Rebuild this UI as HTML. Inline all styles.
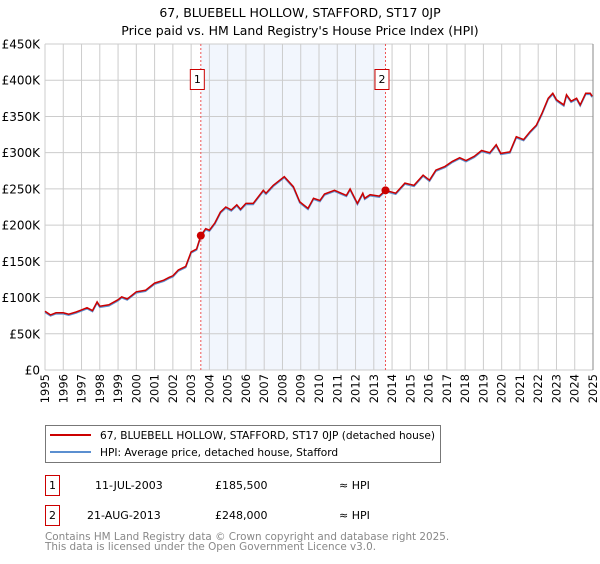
<!DOCTYPE html>
<html><head><meta charset="utf-8">
<style>
body{margin:0;background:#fff;font-family:"DejaVu Sans","Liberation Sans",sans-serif;}
svg text{font-family:"DejaVu Sans","Liberation Sans",sans-serif;}
</style></head>
<body>
<svg id="chart" width="600" height="560" xmlns="http://www.w3.org/2000/svg">
<text x="300" y="17" text-anchor="middle" font-size="12.5" fill="#000">67, BLUEBELL HOLLOW, STAFFORD, ST17 0JP</text>
<text x="300" y="35" text-anchor="middle" font-size="12.5" fill="#000">Price paid vs. HM Land Registry's House Price Index (HPI)</text>
<g id="plot"></g>
<g>
<rect x="45.5" y="425.5" width="395" height="37" fill="#fff" stroke="#777"/>
<line x1="50" y1="435" x2="91" y2="435" stroke="#cc0000" stroke-width="2"/>
<text x="100" y="439" font-size="10.6" fill="#000">67, BLUEBELL HOLLOW, STAFFORD, ST17 0JP (detached house)</text>
<line x1="50" y1="452" x2="91" y2="452" stroke="#5b8fd0" stroke-width="2"/>
<text x="100" y="456" font-size="10.6" fill="#000">HPI: Average price, detached house, Stafford</text>
</g>
<g font-size="11" fill="#000">
<rect x="45.5" y="475.5" width="14" height="20" fill="#fff" stroke="#cc0000"/>
<text x="52.5" y="489" text-anchor="middle" font-size="11">1</text>
<text x="95" y="489">11-JUL-2003</text>
<text x="215" y="489">£185,500</text>
<text x="339" y="489">≈ HPI</text>
<rect x="45.5" y="505.5" width="14" height="20" fill="#fff" stroke="#cc0000"/>
<text x="52.5" y="519" text-anchor="middle" font-size="11">2</text>
<text x="87" y="519">21-AUG-2013</text>
<text x="215" y="519">£248,000</text>
<text x="339" y="519">≈ HPI</text>
</g>
<text x="45" y="540" font-size="10.4" fill="#888">Contains HM Land Registry data © Crown copyright and database right 2025.</text>
<text x="45" y="550" font-size="10.4" fill="#888">This data is licensed under the Open Government Licence v3.0.</text>
</svg>
<script>
const years=[1995,1996,1997,1998,1999,2000,2001,2002,2003,2004,2005,2006,2007,2008,2009,2010,2011,2012,2013,2014,2015,2016,2017,2018,2019,2020,2021,2022,2023,2024,2025];
const yTicks=[0,50,100,150,200,250,300,350,400,450];
const yTickLabels=["£0","£50K","£100K","£150K","£200K","£250K","£300K","£350K","£400K","£450K"];
const hpiDates=[1995.0,1995.3,1995.6,1996.0,1996.3,1996.7,1997.0,1997.3,1997.6,1997.85,1998.0,1998.5,1999.0,1999.2,1999.5,2000.0,2000.5,2001.0,2001.5,2001.8,2002.0,2002.3,2002.7,2003.0,2003.3,2003.53,2003.8,2004.0,2004.3,2004.6,2004.9,2005.2,2005.5,2005.7,2006.0,2006.4,2006.95,2007.1,2007.5,2008.1,2008.6,2008.95,2009.4,2009.7,2010.05,2010.3,2010.85,2011.5,2011.7,2012.1,2012.4,2012.5,2012.8,2013.3,2013.64,2014.2,2014.7,2015.2,2015.7,2016.05,2016.4,2016.9,2017.3,2017.7,2018.05,2018.5,2018.9,2019.35,2019.7,2019.95,2020.45,2020.8,2021.2,2021.55,2021.9,2022.2,2022.55,2022.8,2023.0,2023.4,2023.55,2023.8,2024.1,2024.3,2024.6,2024.85,2024.95];
const hpiValues=[81,76,79,79,77,80,83,86,82,94,88,90,97,101,98,108,110,120,124,128,130,138,143,163,167,185.5,195,193,203,218,225,221,228,222,230,230,248,244,255,267,253,232,223,237,234,243,248,241,250,230,244,237,242,240,248,244,258,255,269,262,276,281,288,293,289,295,303,300,311,299,301,322,318,329,338,354,375,382,373,366,380,371,375,366,382,382,378];
const saleDates=[2003.53,2013.64];
const salePrices=[185.5,248];
const saleLabels=["1","2"];
const L=45,R=593,T=44,B=370;
const xS=y=>L+(y-1995)*(R-L)/30;
const yS=v=>B-v*(B-T)/450;
const NS="http://www.w3.org/2000/svg";
const plot=document.getElementById('plot');
function mk(tag,attrs,parent){const e=document.createElementNS(NS,tag);for(const k in attrs)e.setAttribute(k,attrs[k]);(parent||plot).appendChild(e);return e;}
const shade=mk('rect',{x:xS(saleDates[0]),y:T,width:xS(saleDates[1])-xS(saleDates[0]),height:B-T,fill:'#f2f6fd'});


years.forEach((yr,i)=>{
 const g=mk('line',{x1:xS(yr),x2:xS(yr),y1:T,y2:B,stroke:'#ccc','stroke-width':1});
 
 
 const t=mk('text',{x:0,y:0,transform:`translate(${xS(yr)+4},${B+4}) rotate(-90)`,'text-anchor':'end','font-size':11.5,fill:'#000'});
 t.textContent=yr;
 
 
});
yTicks.forEach((v,i)=>{
 const g=mk('line',{x1:L,x2:R,y1:yS(v),y2:yS(v),stroke:'#ccc','stroke-width':1});
 
 
 const t=mk('text',{x:L-5,y:yS(v)+4.5,'text-anchor':'end','font-size':12,fill:'#000'});
 t.textContent=yTickLabels[i];
 
 
});
const rb=mk('line',{x1:R,x2:R,y1:T,y2:B,stroke:'#888','stroke-width':1});


const pts=hpiDates.map((d,i)=>xS(d).toFixed(1)+','+yS(hpiValues[i]).toFixed(1)).join(' ');
const hpi=mk('polyline',{points:pts,fill:'none',stroke:'#5b8fd0','stroke-width':1.6,transform:'translate(0,1)'});


const prop=mk('polyline',{points:pts,fill:'none',stroke:'#cc0000','stroke-width':1.5});


saleDates.forEach((d,i)=>{
 const vl=mk('line',{x1:xS(d),x2:xS(d),y1:T,y2:B,stroke:'#ee5555','stroke-width':1,'stroke-dasharray':'2,2'});
 
 
 const c=mk('circle',{cx:xS(d),cy:yS(salePrices[i]),r:4,fill:'#cc0000'});
 
 
 const bx=mk('rect',{x:xS(d)-10.5,y:69.5,width:14,height:20,fill:'#fff',stroke:'#cc0000'});
 
 
 const bt=mk('text',{x:xS(d)-3.5,y:83,'text-anchor':'middle','font-size':11,fill:'#000'});
 bt.textContent=saleLabels[i];
 
 
});
</script>
</body></html>
